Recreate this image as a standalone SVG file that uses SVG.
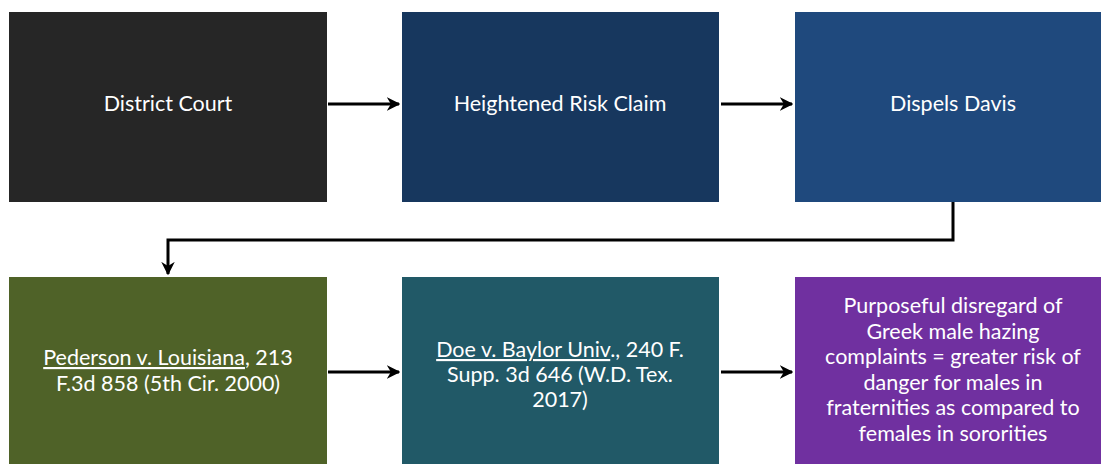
<svg xmlns="http://www.w3.org/2000/svg" width="1101" height="464" viewBox="0 0 1101 464">
<style>
.t{font-family:Lato,"Open Sans","Liberation Sans",sans-serif;font-size:21.5px;fill:#ffffff;text-anchor:middle}
.u{text-decoration:underline}
.c{fill:none;stroke:#000;stroke-width:3}
</style>
<defs>
<marker id="ah" viewBox="0 0 10 10" refX="9" refY="5" markerWidth="4.5" markerHeight="4.5" markerUnits="strokeWidth" orient="auto">
<path d="M0,0 L10,5 L0,10 L3,5 Z" fill="#000"/>
</marker>
</defs>
<rect width="1101" height="464" fill="#fff"/>
<g id="n1"><rect x="9" y="12" width="318" height="190" fill="#262626"/><text class="t" x="168" y="111">District Court</text></g>
<g id="n2"><rect x="402" y="12" width="317" height="190" fill="#17375E"/><text class="t" x="560" y="111">Heightened Risk Claim</text></g>
<g id="n3"><rect x="795" y="12" width="317" height="190" fill="#1F497D"/><text class="t" x="953" y="111">Dispels Davis</text></g>
<g id="n4"><rect x="9" y="277" width="318" height="190" fill="#4F6228"/><text class="t" x="168" y="365"><tspan class="u">Pederson v. Louisiana</tspan>, 213</text><text class="t" x="168" y="391">F.3d 858 (5th Cir. 2000)</text></g>
<g id="n5"><rect x="402" y="277" width="317" height="190" fill="#215967"/><text class="t" x="560" y="357"><tspan class="u">Doe v. Baylor Univ</tspan>., 240 F.</text><text class="t" x="560" y="382">Supp. 3d 646 (W.D. Tex.</text><text class="t" x="560" y="407">2017)</text></g>
<g id="n6"><rect x="795" y="277" width="317" height="190" fill="#7030A0"/>
<text class="t" x="953" y="313">Purposeful disregard of</text>
<text class="t" x="953" y="339">Greek male hazing</text>
<text class="t" x="953" y="364">complaints = greater risk of</text>
<text class="t" x="953" y="390">danger for males in</text>
<text class="t" x="953" y="415">fraternities as compared to</text>
<text class="t" x="953" y="441">females in sororities</text></g>
<g id="connectors">
<path class="c" d="M328,104 H399" marker-end="url(#ah)"/>
<path class="c" d="M721,104 H792" marker-end="url(#ah)"/>
<path class="c" d="M953,202 V240 H168 V274" marker-end="url(#ah)"/>
<path class="c" d="M328,372 H399" marker-end="url(#ah)"/>
<path class="c" d="M721,372 H792" marker-end="url(#ah)"/>
</g>
</svg>
